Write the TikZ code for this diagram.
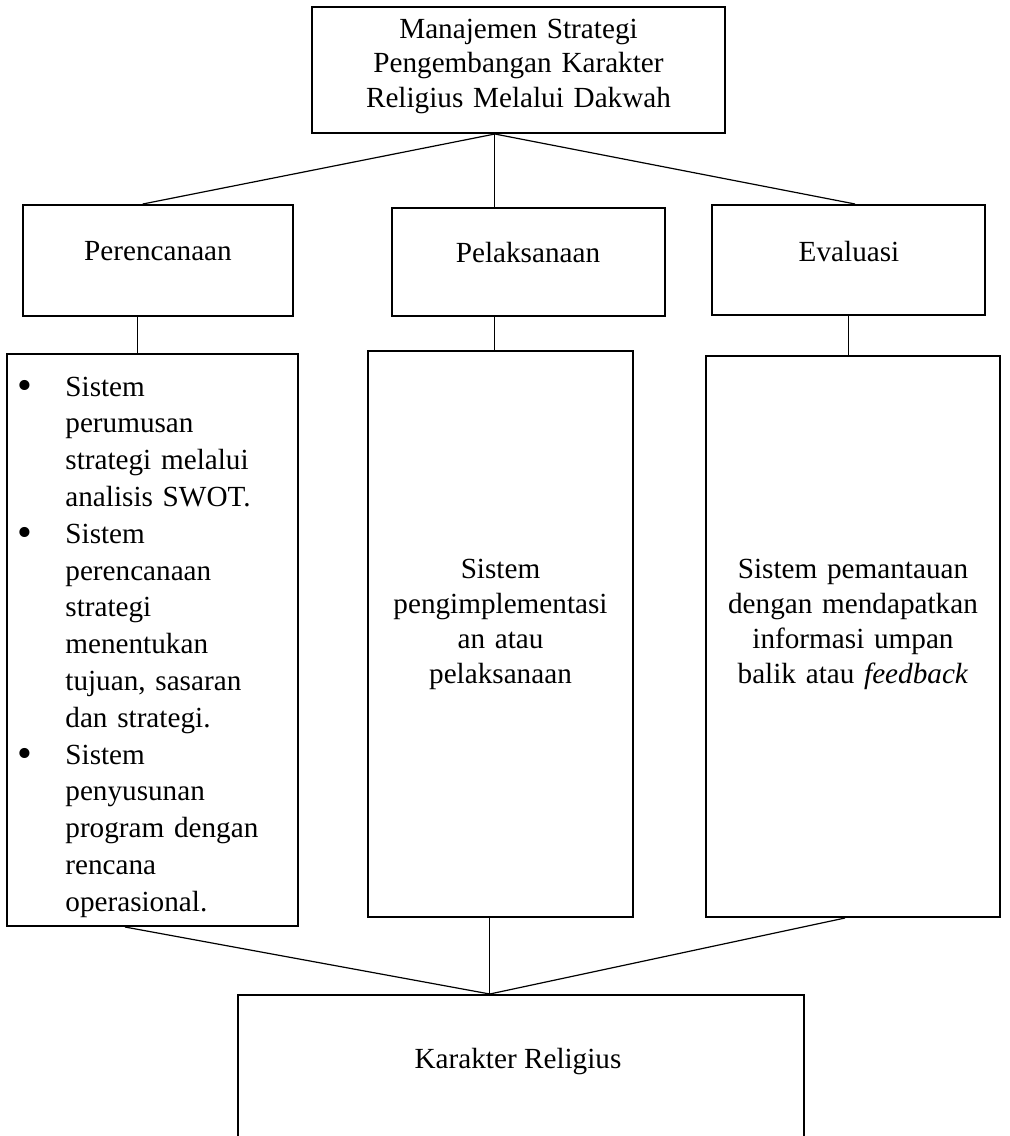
\documentclass[tikz,border=0pt]{standalone}
\usepackage{fontspec}
\usepackage{graphicx}
\setmainfont{Liberation Serif}
\usetikzlibrary{calc}
\newcommand{\bigbul}{\makebox[24pt][l]{\raisebox{-0.12em}{\scalebox{1.45}{\textbullet}}}}
\begin{document}
\begin{tikzpicture}[x=0.5pt,y=-0.5pt,
  box/.style={draw=black, line width=1pt, rectangle, inner sep=0pt},
  conn/.style={draw=black, line width=0.6pt},
  txt/.style={inner sep=0pt, font=\fontsize{14.6}{17.25}\selectfont},
  lsttxt/.style={inner sep=0pt, font=\fontsize{14.6}{18.4}\selectfont}]
\useasboundingbox (0,0) rectangle (1010,1136);
\clip (0,0) rectangle (1010,1136);
\fill[white] (0,0) rectangle (1010,1136);

% boxes
\node[box, minimum width=206.5pt, minimum height=63pt] (top) at (518.5,70) {};
\node[box, minimum width=135pt, minimum height=55.5pt] (per) at (158,260.5) {};
\node[box, minimum width=136.5pt, minimum height=54pt] (pel) at (528.5,262) {};
\node[box, minimum width=136.5pt, minimum height=55pt] (eva) at (848.5,260) {};
\node[box, minimum width=145.75pt, minimum height=286pt] (lst) at (152.25,640) {};
\node[box, minimum width=132.5pt, minimum height=283pt] (mid) at (500.5,634) {};
\node[box, minimum width=147pt, minimum height=280.5pt] (rgt) at (853,636.5) {};
\node[box, minimum width=283pt, minimum height=82.5pt] (bot) at (521,1077.5) {};

% texts
\node[txt, anchor=base, text width=200pt, align=center] (toptext) at (518.5,38)
  {Manajemen Strategi\\Pengembangan Karakter\\Religius Melalui Dakwah};
\node[txt, anchor=base] (pertext) at (158,260) {Perencanaan};
\node[txt, anchor=base] (peltext) at (528,262) {Pelaksanaan};
\node[txt, anchor=base] (evatext) at (849,261) {Evaluasi};
\node[lsttxt, anchor=base west, text width=135pt, align=left] (lsttext) at (17,396)
  {\bigbul Sistem\\
   \hspace*{24pt}perumusan\\
   \hspace*{24pt}strategi melalui\\
   \hspace*{24pt}analisis SWOT.\\
   \bigbul Sistem\\
   \hspace*{24pt}perencanaan\\
   \hspace*{24pt}strategi\\
   \hspace*{24pt}menentukan\\
   \hspace*{24pt}tujuan, sasaran\\
   \hspace*{24pt}dan strategi.\\
   \bigbul Sistem\\
   \hspace*{24pt}penyusunan\\
   \hspace*{24pt}program dengan\\
   \hspace*{24pt}rencana\\
   \hspace*{24pt}operasional.};
\node[txt, anchor=base, text width=125pt, align=center, font=\fontsize{14.6}{17.5}\selectfont] (midtext) at (500.5,578)
  {Sistem\\pengimplementasi\\an atau\\pelaksanaan};
\node[txt, anchor=base, text width=145pt, align=center, font=\fontsize{14.6}{17.5}\selectfont] (rgttext) at (853,578)
  {Sistem pemantauan\\dengan mendapatkan\\informasi umpan\\balik atau \textit{feedback}};
\node[txt, anchor=base] (bottext) at (518,1068) {Karakter Religius};

% junction points
\coordinate (topj) at ($(top.south west)!0.443!(top.south east)$);
\coordinate (perin) at ($(per.north west)!0.444!(per.north east)$);
\coordinate (evain) at ($(eva.north west)!0.524!(eva.north east)$);
\coordinate (perout) at ($(per.south west)!0.426!(per.south east)$);
\coordinate (bj) at ($(bot.north west)!0.445!(bot.north east)$);
\coordinate (lstout) at ($(lst.south west)!0.407!(lst.south east)$);
\coordinate (rgtout) at ($(rgt.south west)!0.473!(rgt.south east)$);

% connectors
\draw[conn] (topj) -- (perin);
\draw[conn] (topj) -- (topj |- pel.north);
\draw[conn] (topj) -- (evain);
\draw[conn] (perout) -- (perout |- lst.north);
\draw[conn] (topj |- pel.south) -- (topj |- mid.north);
\draw[conn] (eva.south) -- (eva.south |- rgt.north);
\draw[conn] (lstout) -- (bj);
\draw[conn] (bj |- mid.south) -- (bj);
\draw[conn] (rgtout) -- (bj);
\end{tikzpicture}
\end{document}
